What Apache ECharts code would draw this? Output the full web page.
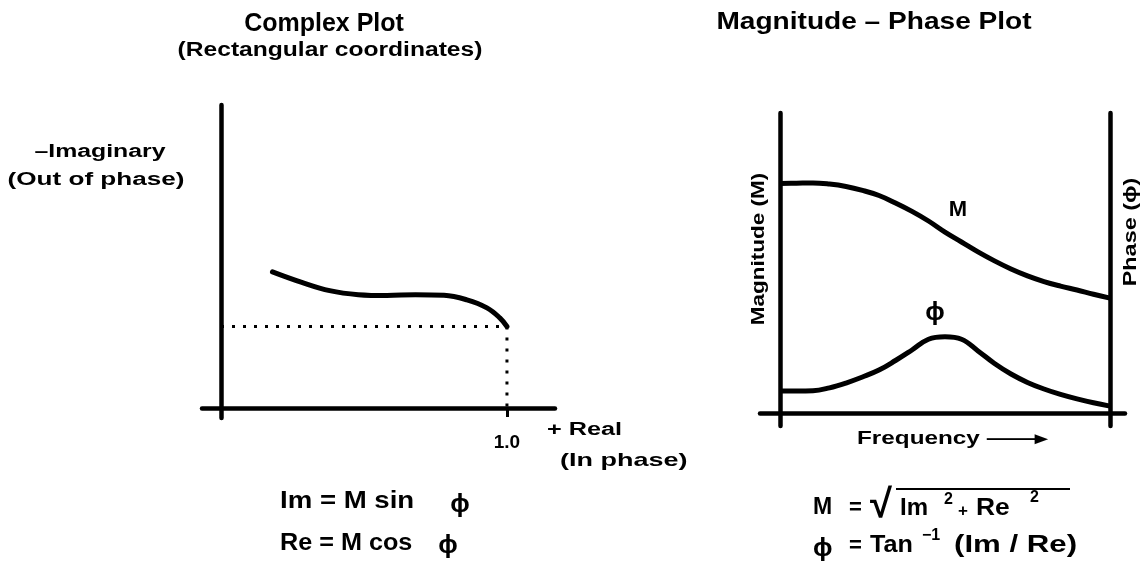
<!DOCTYPE html>
<html>
<head>
<meta charset="utf-8">
<script src="https://cdn.jsdelivr.net/npm/echarts@6/dist/echarts.min.js"></script>
<style>
  html, body { margin: 0; padding: 0; background: #fff; }
  #main { width: 1144px; height: 571px; }
</style>
</head>
<body>
<div id="main"></div>
<script>
// complex plot curve (real, -imaginary)
var complexRe = [0.18, 0.28, 0.38, 0.48, 0.58, 0.68, 0.78, 0.86, 0.93, 0.975, 1.0];
var complexIm = [0.476, 0.44, 0.41, 0.396, 0.393, 0.396, 0.394, 0.378, 0.35, 0.315, 0.285];
var realTicks = [1];

// magnitude-phase plot
var frequency = [0, 0.5, 1, 1.5, 2, 2.5, 3, 3.5, 4, 4.5, 5, 5.5, 6, 6.5, 7, 7.5, 8, 8.5, 9, 9.5, 10];
var magnitude = [7.65, 7.66, 7.67, 7.63, 7.55, 7.42, 7.25, 7.0, 6.72, 6.4, 6.03, 5.7, 5.37, 5.07, 4.8, 4.57, 4.38, 4.23, 4.1, 3.96, 3.83];
var phase = [0.73, 0.73, 0.74, 0.84, 1.0, 1.2, 1.43, 1.75, 2.1, 2.46, 2.54, 2.46, 2.07, 1.65, 1.3, 1.02, 0.8, 0.62, 0.47, 0.34, 0.23];

var FONT = '"Liberation Sans", Arial, sans-serif';

init();

function init(){
  var myChart = echarts.init(document.getElementById('main'));
  myChart.setOption(buildOption());
}

function pairs(xs, ys){
  var out = [];
  for (var i = 0; i < xs.length; i++) out.push([xs[i], ys[i]]);
  return out;
}

// text helper: centre/left anchored, optional horizontal stretch and rotation
function txt(str, x, y, size, align, sx, rot){
  return {
    type: 'text', x: x, y: y, rotation: rot || 0, scaleX: sx || 1,
    style: { text: str, font: 'bold ' + size + 'px ' + FONT, fill: '#000',
             align: align || 'center', verticalAlign: 'middle' }
  };
}

function buildOption(){
  var last = complexRe.length - 1;
  var axisLine = { lineStyle: { color: '#000', width: 4.5 } };
  return {
    animation: false,
    backgroundColor: '#fff',
    grid: [
      { left: 202, top: 105, width: 353, height: 313, outerBoundsMode: 'none' },
      { left: 760, top: 113, width: 365, height: 313, outerBoundsMode: 'none' }
    ],
    xAxis: [
      {
        type: 'value', gridIndex: 0, min: -0.0664, max: 1.168,
        axisLine: axisLine, splitLine: { show: false },
        axisTick: { customValues: realTicks, length: 9, lineStyle: { color: '#000', width: 3 } },
        axisLabel: {
          customValues: realTicks, margin: 15, color: '#000',
          fontSize: 19, fontWeight: 'bold', fontFamily: FONT,
          formatter: function(v){ return v.toFixed(1); }
        }
      },
      {
        type: 'value', gridIndex: 1, min: -0.606, max: 10.455,
        axisLine: axisLine, splitLine: { show: false },
        axisTick: { show: false }, axisLabel: { show: false }
      }
    ],
    yAxis: [
      {
        type: 'value', gridIndex: 0, min: -0.035, max: 1.059,
        axisLine: axisLine, splitLine: { show: false },
        axisTick: { show: false }, axisLabel: { show: false }
      },
      {
        type: 'value', gridIndex: 1, min: -0.433, max: 10,
        axisLine: axisLine, splitLine: { show: false },
        axisTick: { show: false }, axisLabel: { show: false }
      },
      {
        type: 'value', gridIndex: 1, min: -0.433, max: 10.1, position: 'right', offset: -15,
        axisLine: { onZero: false, lineStyle: { color: '#000', width: 4.5 } },
        splitLine: { show: false },
        axisTick: { show: false }, axisLabel: { show: false }
      }
    ],
    series: [
      {
        type: 'line', xAxisIndex: 0, yAxisIndex: 0, showSymbol: false, silent: true,
        data: [[0, complexIm[last]], [complexRe[last], complexIm[last]], [complexRe[last], 0]],
        lineStyle: { color: '#000', width: 3, type: [3, 8] }, z: 1
      },
      {
        type: 'line', xAxisIndex: 0, yAxisIndex: 0, smooth: 0.4, showSymbol: false, silent: true,
        data: pairs(complexRe, complexIm),
        lineStyle: { color: '#000', width: 5, cap: 'round' }, z: 3
      },
      {
        name: 'M', type: 'line', xAxisIndex: 1, yAxisIndex: 1, smooth: 0.4, showSymbol: false, silent: true,
        data: pairs(frequency, magnitude),
        lineStyle: { color: '#000', width: 5 }
      },
      {
        name: 'phase', type: 'line', xAxisIndex: 1, yAxisIndex: 1, smooth: 0.4, showSymbol: false, silent: true,
        data: pairs(frequency, phase),
        lineStyle: { color: '#000', width: 5 }
      }
    ],
    graphic: [
      txt('Complex Plot', 324, 24, 25),
      txt('(Rectangular coordinates)', 330, 50, 20, 'center', 1.23),
      txt('\u2013Imaginary', 100, 152, 18, 'center', 1.38),
      txt('(Out of phase)', 96, 180, 18, 'center', 1.45),
      txt('+ Real', 547, 430, 18, 'left', 1.4),
      txt('(In phase)', 560, 461, 19, 'left', 1.42),
      txt('Im = M sin', 280, 501, 24, 'left', 1.15),
      txt('\u03d5', 460, 505, 26),
      txt('Re = M cos', 280, 543, 24, 'left', 1.05),
      txt('\u03d5', 448, 546, 26),
      txt('Magnitude \u2013 Phase Plot', 874, 22, 24, 'center', 1.17),
      txt('M', 958, 210, 22),
      txt('\u03d5', 935, 313, 26),
      txt('Magnitude (M)', 759, 249, 18, 'center', 1.25, Math.PI / 2),
      txt('Phase (\u03d5)', 1131, 232, 18, 'center', 1.3, Math.PI / 2),
      txt('Frequency \u2014\u2014\u25b8', 857, 439, 18, 'left', 1.35),
      // M = sqrt(Im^2 + Re^2)
      txt('M', 813, 508, 23, 'left'),
      txt('=', 849, 508, 22, 'left'),
      txt('\u221a', 870, 506, 40, 'left', 1.0),
      { type: 'line', shape: { x1: 896, y1: 489, x2: 1070, y2: 489 }, style: { stroke: '#000', lineWidth: 2 } },
      txt('Im', 900, 508, 24, 'left'),
      txt('2', 944, 500, 16, 'left'),
      txt('+', 958, 511, 17, 'left'),
      txt('Re', 976, 508, 24, 'left', 1.1),
      txt('2', 1030, 498, 16, 'left'),
      // phi = Tan^-1(Im/Re)
      txt('\u03d5', 813, 549, 26, 'left'),
      txt('=', 849, 546, 22, 'left'),
      txt('Tan', 870, 545, 24, 'left', 1.05),
      txt('\u22121', 922, 536, 16, 'left'),
      txt('(Im / Re)', 954, 545, 24, 'left', 1.3)
    ]
  };
}
</script>
</body>
</html>
